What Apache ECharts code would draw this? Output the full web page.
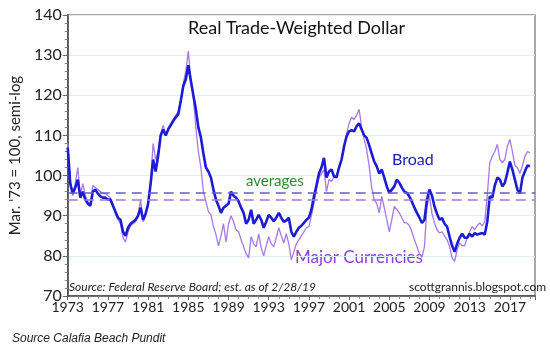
<!DOCTYPE html>
<html><head><meta charset="utf-8">
<script src="https://cdn.jsdelivr.net/npm/echarts@6/dist/echarts.min.js"></script>
<style>html,body{margin:0;padding:0;background:#fff}#c{width:550px;height:355px}</style>
</head><body><div id="c"></div>
<script>
// Quarterly readings, starting 1973 Q1 (last value = early 2019)
const startYear = 1973;
const broad = [
107,98,95.5,97, 99,94.5,96,94, 93,92.5,96,96.5, 95.5,94.8,94.5,94.5, 94,94,92.5,91,
89.5,89,86,85, 87,88,88.5,89, 90,92,89,90.5, 93,98,104,101, 105,110,111.5,110,
111.5,112.5,113.6,114.5, 115.3,118.6,122.3,124, 127.5,123.6,120,116.5, 112,109.5,105.5,102, 101,99.5,96.5,94,
92.5,90.7,92,92.5, 93,96,95,94.5, 93.6,92,90.7,88, 89,91.5,88,89, 90.2,89,87,88.5,
90.2,89.5,88.6,89.5, 90.7,89.5,88.5,88.8, 89.5,86,84.8,86, 87,87.5,88.2,89, 89.5,91.5,94.8,97.5,
100.5,102,104.4,99.5, 101,101.5,99.8,99.6, 102,104,107.3,109.8, 111,111.3,111,112.3, 113,111.5,110,109.4,
107.5,105.5,103.5,102.3, 100.5,101.5,99.5,97.3, 95.7,96.5,97.3,99, 98.2,97,96,95.7, 94.8,93.5,92,90.7,
89.5,88.2,89,94, 96.5,95,92.3,90.5, 89,89.4,88,87.3, 84.8,82.5,81,83, 84.5,85.5,84.5,84.5,
85.5,84.8,85.7,85.3, 85.5,85.7,85.3,88.5, 94.8,94.5,97.5,99.5, 99,97.3,98.2,100.7, 103.5,101.5,99,96.5,
95.5,99.5,101.1,102.5, 102.3
];
const major = [
108,99,95,98, 102,95,98,95, 93.5,93,97.5,97, 96.5,96,95.5,95.5, 95,94.5,93,90.5,
89,88,84.5,83.5, 86,87.5,88,88.5, 90,94,88.5,90, 92.5,99,108,104, 106,110.5,112.5,110,
112,113,114,115, 116,119,123,126, 131,124,119.5,112, 106,102,96,93.5, 91,90.25,87.3,85.3,
82.5,85,88,83.5, 88,90,88.5,86.5, 86,84,82.3,80.5, 79.5,84.8,83,82.3, 85.5,82,80,82.5,
84.8,83,82.3,84.5, 87,85,83.2,85.5, 83,79,81,83, 84,85,86,87, 87.3,90,93,96.5,
99.5,100.5,101.5,96, 99,98.5,99.8,99.5, 102.3,104,106.5,110.5, 113,114.5,114,115, 116.5,112,109,106.5,
102.3,97,94,93, 90.7,94.8,92,89, 86,89,92.3,91.5, 90.7,89.5,88.2,88.2, 87.5,86,84,82.3,
80.5,79.6,82.3,92.3, 94.8,90.5,88.2,86.5, 85.7,86,85,84, 82.3,79.5,78.6,81.5, 83.2,82.5,82.5,84.5,
86,87.3,86.5,87.5, 88.2,87.5,88.5,95, 103.2,104.8,106,107.8, 104,103.2,104,107.3, 109,106,102.5,102,
100.5,102.5,104.8,106, 105.7
];
const averages = [95.7, 93.9]; // Broad avg, Major avg
const yTicks = [70, 80, 90, 100, 110, 120, 130, 140];
const xLabelYears = [1973,1977,1981,1985,1989,1993,1997,2001,2005,2009,2013,2017];

const toPairs = arr => arr.map((v, i) => [i / 4, v]);

const F = 'Lato, "Noto Sans", sans-serif';
const chart = echarts.init(document.getElementById('c'));
chart.setOption({
  animation: false,
  backgroundColor: '#fff',
  grid: { left: 66, top: 15, right: 15, bottom: 59, show: true, borderColor: '#8a8a8a', borderWidth: 1.5 },
  xAxis: {
    type: 'value', min: 0, max: 46.5, interval: 4,
    axisLine: { show: true, onZero: false, lineStyle: { color: '#444', width: 1.5 } },
    axisTick: { show: true, length: 4, lineStyle: { color: '#666' } },
    minorTick: { show: true, splitNumber: 4, length: 3, lineStyle: { color: '#888' } },
    splitLine: { show: false },
    axisLabel: { color: '#222', fontFamily: F, fontSize: 14, margin: 4,
      formatter: v => xLabelYears.indexOf(v + startYear) >= 0 ? String(v + startYear) : '' }
  },
  yAxis: {
    type: 'value', min: yTicks[0], max: yTicks[yTicks.length - 1], interval: 10,
    name: "Mar. '73 = 100, semi-log", nameLocation: 'middle', nameGap: 36, nameRotate: 90,
    nameTextStyle: { color: '#222', fontFamily: F, fontSize: 15 },
    axisLine: { show: true, lineStyle: { color: '#444', width: 1.5 } },
    axisTick: { show: true, length: 5, lineStyle: { color: '#666' } },
    minorTick: { show: true, splitNumber: 5, length: 3, lineStyle: { color: '#888' } },
    splitLine: { show: true, lineStyle: { color: '#dcf0f4', width: 1 } },
    axisLabel: { color: '#222', fontFamily: F, fontSize: 16, margin: 6 }
  },
  series: [
    { name: 'Major Currencies', type: 'line', data: toPairs(major), showSymbol: false,
      lineStyle: { color: '#a878e8', width: 1.3 }, z: 2,
      markLine: { silent: true, symbol: 'none', label: { show: false },
        lineStyle: { color: '#a078e0', type: [10, 6], width: 1.6 },
        data: [{ yAxis: averages[1] }] } },
    { name: 'Broad', type: 'line', data: toPairs(broad), showSymbol: false,
      lineStyle: { color: '#1c1cd4', width: 2.6 }, z: 3,
      markLine: { silent: true, symbol: 'none', label: { show: false },
        lineStyle: { color: '#6a5cc8', type: [10, 6], width: 1.6 },
        data: [{ yAxis: averages[0] }] } }
  ],
  graphic: [
    { type: 'text', left: 188, top: 19, style: { text: 'Real Trade-Weighted Dollar', fill: '#111', font: '18px ' + F } },
    { type: 'text', left: 246, top: 174, style: { text: 'averages', fill: '#2e8b2e', font: '15px ' + F } },
    { type: 'text', left: 392, top: 152, style: { text: 'Broad', fill: '#1a22b0', font: '16px ' + F } },
    { type: 'text', left: 295, top: 249, style: { text: 'Major Currencies', fill: '#8b3fd9', font: '17px ' + F } },
    { type: 'text', left: 69, top: 281, style: { text: 'Source: Federal Reserve Board; est. as of 2/28/19', fill: '#222', font: 'italic 12px ' + F } },
    { type: 'text', left: 409, top: 281, style: { text: 'scottgrannis.blogspot.com', fill: '#222', font: '12px ' + F } },
    { type: 'text', left: 12, top: 333, style: { text: 'Source Calafia Beach Pundit', fill: '#222', font: 'italic 12px "Liberation Sans", Arial, sans-serif' } }
  ]
});
</script></body></html>
